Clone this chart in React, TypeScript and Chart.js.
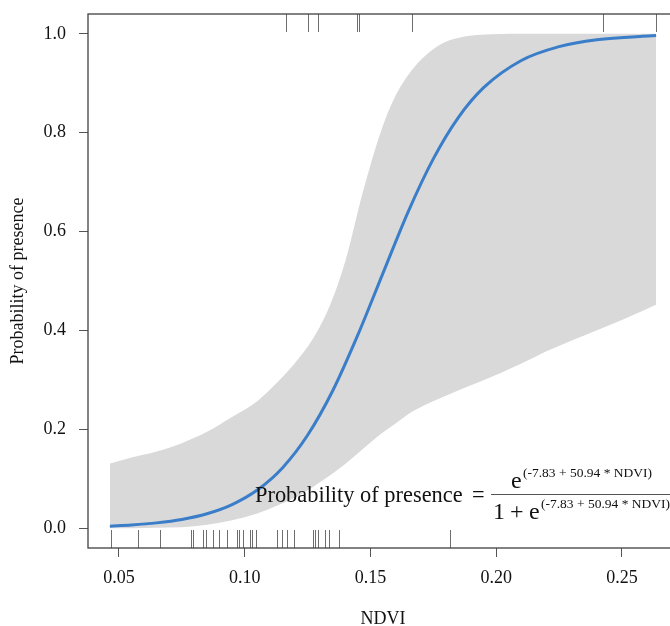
import React, { useEffect, useRef } from "react";
import { Chart, registerables } from "chart.js";

Chart.register(...registerables);

// ---- data ----
const curveNdvi = [0.0464, 0.055, 0.065, 0.075, 0.085, 0.095, 0.105, 0.115, 0.125, 0.135, 0.145, 0.155, 0.165, 0.175, 0.185, 0.195, 0.21, 0.225, 0.24, 0.2636];
const curveProb = [0.0042, 0.0065, 0.0108, 0.0178, 0.0293, 0.0478, 0.0772, 0.122, 0.188, 0.278, 0.391, 0.516, 0.64, 0.747, 0.831, 0.891, 0.946, 0.974, 0.988, 0.9963];

const bandNdvi = [0.0464, 0.055, 0.065, 0.075, 0.085, 0.095, 0.105, 0.113, 0.12, 0.127, 0.134, 0.14, 0.147, 0.154, 0.16, 0.167, 0.174, 0.18, 0.187, 0.194, 0.21, 0.22, 0.235, 0.25, 0.2636];
const bandUpper = [0.131, 0.143, 0.155, 0.172, 0.195, 0.225, 0.257, 0.295, 0.334, 0.382, 0.452, 0.54, 0.68, 0.8, 0.875, 0.93, 0.965, 0.984, 0.994, 0.998, 1.0, 1.0, 1.0, 1.0, 1.0];
const bandLower = [0.0, 0.0, 0.001, 0.002, 0.007, 0.016, 0.03, 0.046, 0.062, 0.083, 0.107, 0.13, 0.16, 0.19, 0.212, 0.237, 0.255, 0.268, 0.283, 0.297, 0.333, 0.358, 0.39, 0.421, 0.452];

const rugAbsent = [0.0467, 0.0577, 0.0663, 0.0785, 0.0796, 0.0835, 0.0846, 0.0873, 0.0899, 0.0928, 0.0971, 0.0979, 0.0992, 0.1021, 0.1028, 0.1045, 0.1127, 0.1147, 0.1167, 0.1196, 0.1273, 0.1281, 0.129, 0.1319, 0.1337, 0.1376, 0.1817];
const rugPresent = [0.1164, 0.1253, 0.1293, 0.1446, 0.1456, 0.1664, 0.2426, 0.2635];

const xTickValues = [0.05, 0.1, 0.15, 0.2, 0.25];
const yTickValues = [0, 0.2, 0.4, 0.6, 0.8, 1.0];

const SERIF = "'Liberation Serif', 'DejaVu Serif', serif";

const framePlugin = {
  id: "frameAndRug",
  afterDatasetsDraw(chart: any) {
    const { ctx, chartArea: a, scales } = chart;
    const xs = scales.x;
    ctx.save();
    // rugs
    ctx.strokeStyle = "#6e6e6e";
    ctx.lineWidth = 1;
    const len = 18;
    rugAbsent.forEach((v) => {
      const px = Math.round(xs.getPixelForValue(v)) + 0.5;
      ctx.beginPath();
      ctx.moveTo(px, a.bottom);
      ctx.lineTo(px, a.bottom - len);
      ctx.stroke();
    });
    rugPresent.forEach((v) => {
      const px = Math.round(xs.getPixelForValue(v)) + 0.5;
      ctx.beginPath();
      ctx.moveTo(px, a.top);
      ctx.lineTo(px, a.top + len);
      ctx.stroke();
    });
    // frame
    ctx.strokeStyle = "#404040";
    ctx.lineWidth = 1.3;
    ctx.strokeRect(a.left, a.top, a.right - a.left, a.bottom - a.top);

    // equation annotation
    ctx.fillStyle = "#111";
    ctx.textBaseline = "alphabetic";
    ctx.textAlign = "left";
    ctx.font = `22.4px ${SERIF}`;
    ctx.fillText("Probability of presence", 255, 502);
    ctx.fillText("=", 472, 502);
    ctx.strokeStyle = "#555";
    ctx.lineWidth = 1;
    ctx.beginPath();
    ctx.moveTo(491, 494.5);
    ctx.lineTo(680, 494.5);
    ctx.stroke();
    ctx.font = `24px ${SERIF}`;
    ctx.fillText("e", 511, 488);
    ctx.fillText("1", 493, 519);
    ctx.fillText("+", 510, 519);
    ctx.fillText("e", 529, 519);
    ctx.font = `13.5px ${SERIF}`;
    ctx.fillText("(-7.83 + 50.94 * NDVI)", 523, 477);
    ctx.fillText("(-7.83 + 50.94 * NDVI)", 541, 508);
    ctx.restore();
  },
};

export default function App() {
  const ref = useRef<HTMLCanvasElement | null>(null);
  useEffect(() => {
    if (!ref.current) return;
    const chart = new Chart(ref.current, {
      type: "line",
      data: {
        datasets: [
          {
            label: "upper",
            data: bandNdvi.map((x, i) => ({ x, y: bandUpper[i] })),
            borderWidth: 0,
            borderColor: "rgba(0,0,0,0)",
            backgroundColor: "#d9d9d9",
            pointRadius: 0,
            fill: "+1",
            order: 2,
            cubicInterpolationMode: "monotone",
          },
          {
            label: "lower",
            data: bandNdvi.map((x, i) => ({ x, y: bandLower[i] })),
            borderWidth: 0,
            borderColor: "rgba(0,0,0,0)",
            pointRadius: 0,
            fill: false,
            order: 3,
            cubicInterpolationMode: "monotone",
          },
          {
            label: "fit",
            data: curveNdvi.map((x, i) => ({ x, y: curveProb[i] })),
            borderColor: "#3a7dc9",
            borderWidth: 3,
            pointRadius: 0,
            fill: false,
            order: 0,
            cubicInterpolationMode: "monotone",
          },
        ],
      },
      options: {
        responsive: false,
        animation: false,
        events: [],
        layout: { padding: { left: 0, right: 12, top: 14, bottom: 0 } },
        plugins: { legend: { display: false }, tooltip: { enabled: false } },
        scales: {
          x: {
            type: "linear",
            min: 0.0377,
            max: 0.2723,
            afterBuildTicks: (s: any) => {
              s.ticks = xTickValues.map((v) => ({ value: v }));
            },
            afterFit: (s: any) => {
              s.height = 78;
              s.paddingLeft = 0;
              s.paddingRight = 0;
            },
            ticks: {
              callback: (v: any) => Number(v).toFixed(2),
              font: { family: SERIF, size: 18 },
              color: "#111",
              padding: 10,
              maxRotation: 0,
              autoSkip: false,
            },
            grid: { drawOnChartArea: false, drawTicks: true, tickLength: 9, color: "#555", lineWidth: 1 },
            border: { display: false },
            title: { display: true, text: "NDVI", font: { family: SERIF, size: 18 }, color: "#111", padding: { top: 0, bottom: -4 } },
          },
          y: {
            type: "linear",
            min: -0.04,
            max: 1.04,
            afterBuildTicks: (s: any) => {
              s.ticks = yTickValues.map((v) => ({ value: v }));
            },
            afterFit: (s: any) => {
              s.width = 88;
              s.paddingTop = 0;
              s.paddingBottom = 0;
            },
            ticks: {
              callback: (v: any) => Number(v).toFixed(1),
              font: { family: SERIF, size: 18 },
              color: "#111",
              padding: 13,
              autoSkip: false,
            },
            grid: { drawOnChartArea: false, drawTicks: true, tickLength: 9, color: "#555", lineWidth: 1 },
            border: { display: false },
            title: { display: true, text: "Probability of presence", font: { family: SERIF, size: 18 }, color: "#111", padding: { top: 7, bottom: 0 } },
          },
        },
      },
      plugins: [framePlugin],
    } as any);
    return () => chart.destroy();
  }, []);
  return (
    <div style={{ position: "absolute", left: 0, top: 0, width: 670, height: 626, overflow: "hidden", background: "#fff" }}>
      <canvas ref={ref} width={690} height={626} style={{ display: "block" }} />
    </div>
  );
}
